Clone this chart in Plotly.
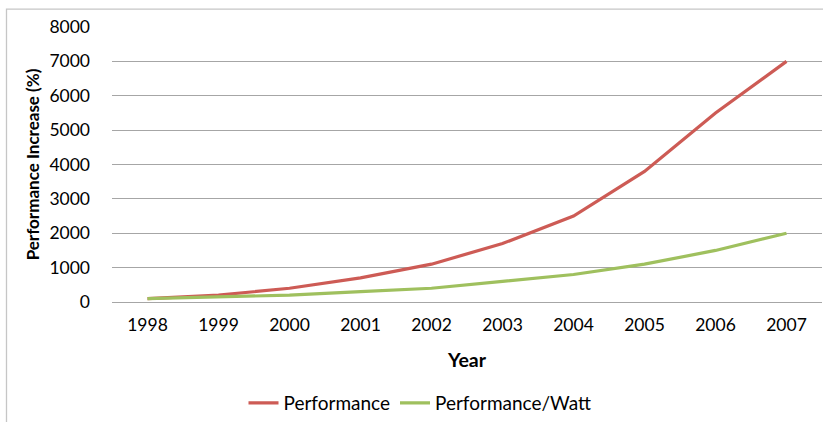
import plotly.graph_objects as go

years = ["1998", "1999", "2000", "2001", "2002", "2003", "2004", "2005", "2006", "2007"]
performance = [100, 200, 400, 700, 1100, 1700, 2500, 3800, 5500, 7000]
perf_per_watt = [100, 150, 200, 300, 400, 600, 800, 1100, 1500, 2000]
y_ticks = [0, 1000, 2000, 3000, 4000, 5000, 6000, 7000, 8000]

FONT = "Lato, 'Open Sans', sans-serif"
W, H = 823, 422
L, R, T, B = 112, 1, 27, 119
plot_w = W - L - R
plot_h = H - T - B

fig = go.Figure()
fig.add_trace(go.Scatter(x=years, y=performance, mode="lines", name="Performance",
                         line=dict(color="#cd5b55", width=3.2)))
fig.add_trace(go.Scatter(x=years, y=perf_per_watt, mode="lines", name="Performance/Watt",
                         line=dict(color="#9fc05e", width=3.2)))


def px_x(p):
    return (p - L) / plot_w


def px_y(p):
    return (H - B - p) / plot_h


# chart-area frame
fig.add_shape(type="rect", xref="paper", yref="paper",
              x0=px_x(6.5), x1=px_x(840), y0=px_y(9), y1=px_y(440),
              line=dict(color="#c6c6c6", width=1.3), fillcolor="rgba(0,0,0,0)", layer="below")

fig.update_layout(
    width=W, height=H,
    margin=dict(l=L, r=R, t=T, b=B),
    paper_bgcolor="white", plot_bgcolor="white",
    font=dict(family=FONT, size=17, color="#000000"),
    showlegend=True,
    legend=dict(orientation="h", x=px_x(420), xanchor="center", y=px_y(404), yanchor="middle",
                font=dict(size=19), itemwidth=30, tracegroupgap=0),
    xaxis=dict(
        type="category", range=[-0.5, 9.5], showgrid=False, zeroline=False,
        showline=False, ticks="", ticklabelstandoff=10,
        tickfont=dict(size=17.5),
        title=dict(text="<b>Year</b>", font=dict(size=19.5), standoff=19),
    ),
    yaxis=dict(
        range=[0, 8000], tickvals=y_ticks, showgrid=True, gridcolor="#a6a6a6", gridwidth=1,
        zeroline=True, zerolinecolor="#a6a6a6", zerolinewidth=1,
        showline=False, ticks="", ticklabelstandoff=21,
        tickfont=dict(size=17.5),
        title=dict(text="<b>Performance Increase (%)</b>", font=dict(size=17), standoff=5),
    ),
)

fig.write_html("out.html")
